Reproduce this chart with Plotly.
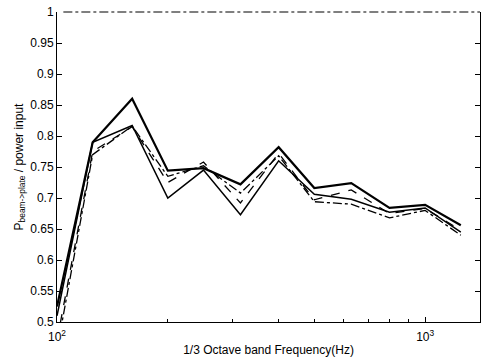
import plotly.graph_objects as go

# 1/3 octave band centre frequencies (Hz)
freq = [100, 125, 160, 200, 250, 315, 400, 500, 630, 800, 1000, 1250]

# Power flow beam->plate normalised by input power, four cases
case_a = [0.525, 0.790, 0.860, 0.744, 0.748, 0.722, 0.782, 0.716, 0.724, 0.684, 0.689, 0.656]
case_b = [0.510, 0.790, 0.817, 0.700, 0.745, 0.673, 0.760, 0.706, 0.698, 0.677, 0.684, 0.645]
case_c = [0.470, 0.775, 0.815, 0.725, 0.758, 0.692, 0.772, 0.697, 0.713, 0.675, 0.683, 0.648]
case_d = [0.455, 0.770, 0.816, 0.735, 0.752, 0.708, 0.768, 0.694, 0.690, 0.668, 0.680, 0.640]

y_ticks = [0.5, 0.55, 0.6, 0.65, 0.7, 0.75, 0.8, 0.85, 0.9, 0.95, 1.0]
y_tick_text = ["0.5", "0.55", "0.6", "0.65", "0.7", "0.75", "0.8", "0.85", "0.9", "0.95", "1"]
x_ticks = [100, 1000]
x_tick_text = ["10<sup>2</sup>", "10<sup>3</sup>"]
x_minor = [200, 300, 400, 500, 600, 700, 800, 900]

series = [
    (case_a, dict(color="black", width=2.2, dash="solid")),
    (case_b, dict(color="black", width=1.5, dash="solid")),
    (case_c, dict(color="black", width=1.3, dash="dash")),
    (case_d, dict(color="black", width=1.3, dash="dashdot")),
]

fig = go.Figure()
for vals, line in series:
    fig.add_trace(go.Scatter(x=freq, y=vals, mode="lines", line=line,
                             showlegend=False, cliponaxis=True))

font = dict(family="Liberation Sans, Arial, sans-serif", color="black")

fig.update_layout(
    width=482, height=360,
    margin=dict(l=57, r=2, t=12, b=38),
    paper_bgcolor="white", plot_bgcolor="white",
    font=dict(size=11, **font),
    xaxis=dict(
        type="log", range=[2, 3.149],
        tickvals=x_ticks, ticktext=x_tick_text,
        ticks="inside", ticklen=5, tickcolor="black",
        minor=dict(tickvals=x_minor, ticks="inside", ticklen=3, tickcolor="black"),
        showline=True, linecolor="black", linewidth=1, mirror=False,
        showgrid=False, zeroline=False,
        ticklabelstandoff=4,
        tickfont=dict(size=12, **font),
        title=dict(text="1/3 Octave band Frequency(Hz)", font=dict(size=12, **font), standoff=2),
    ),
    yaxis=dict(
        range=[0.5, 1.0],
        tickvals=y_ticks, ticktext=y_tick_text,
        ticks="inside", ticklen=5, tickcolor="black",
        showline=True, linecolor="black", linewidth=1, mirror="ticks",
        showgrid=False, zeroline=False,
        tickfont=dict(size=12, **font),
        title=dict(text="P<sub>beam-&gt;plate</sub> / power input",
                   font=dict(size=12, **font), standoff=4),
    ),
    shapes=[
        dict(type="line", xref="paper", yref="paper", x0=0.015, x1=1, y0=1, y1=1,
             line=dict(color="black", width=1.2, dash="dashdot")),
    ],
)

fig.write_html("out.html")
